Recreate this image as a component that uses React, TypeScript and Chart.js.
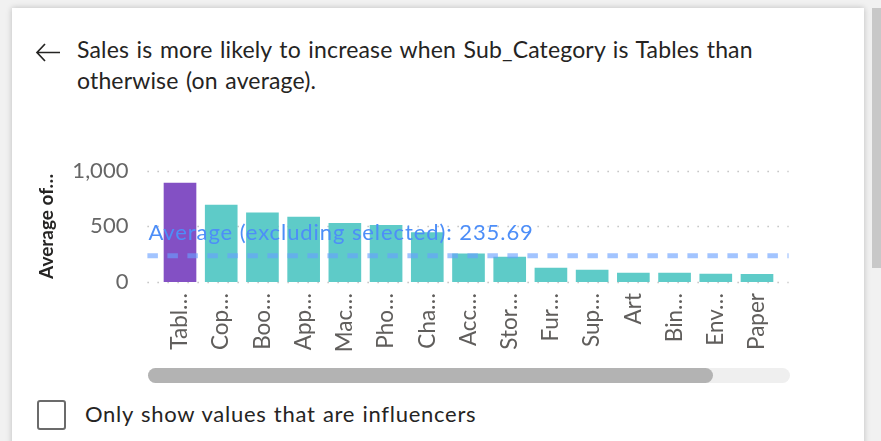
import React, { useEffect, useRef } from "react";
import { Chart, registerables } from "chart.js";

Chart.register(...registerables);

const categories = [
  "Tabl…", "Cop…", "Boo…", "App…", "Mac…", "Pho…", "Cha…", "Acc…",
  "Stor…", "Fur…", "Sup…", "Art", "Bin…", "Env…", "Paper",
];
const averageSales = [889, 691, 621, 583, 528, 510, 444, 252, 225, 126, 108, 81, 80, 72, 70];
const selectedIndex = 0;
const yTicks = [0, 500, 1000];
const averageExcludingSelected = 235.69;
const averageLabel = "Average (excluding selected): 235.69";
const titleLine1 = "Sales is more likely to increase when Sub_Category is Tables than";
const titleLine2 = "otherwise (on average).";
const yAxisTitle = "Average of…";
const checkboxLabel = "Only show values that are influencers";

const FONT = "Lato, 'Open Sans', sans-serif";

const overlayPlugin = {
  id: "overlay",
  beforeDatasetsDraw(chart: any) {
    const { ctx, chartArea, scales } = chart;
    const y = scales.y;
    ctx.save();
    ctx.strokeStyle = "#c2c2c2";
    ctx.lineWidth = 1.5;
    ctx.setLineDash([1.5, 8.5]);
    for (const v of yTicks) {
      const py = Math.round(y.getPixelForValue(v)) + 0.5;
      ctx.beginPath();
      ctx.moveTo(chartArea.left - 12, py);
      ctx.lineTo(chartArea.right + 11, py);
      ctx.stroke();
    }
    ctx.restore();
  },
  afterDatasetsDraw(chart: any) {
    const { ctx, chartArea, scales } = chart;
    const y = scales.y;
    const py = y.getPixelForValue(averageExcludingSelected);
    ctx.save();
    ctx.strokeStyle = "rgba(105,160,255,0.62)";
    ctx.lineWidth = 5;
    ctx.setLineDash([10.5, 9.5]);
    ctx.beginPath();
    ctx.moveTo(chartArea.left - 12, py);
    ctx.lineTo(chartArea.right + 11, py);
    ctx.stroke();
    ctx.setLineDash([]);
    ctx.fillStyle = "#4d8ef8";
    ctx.font = `22px ${FONT}`;
    (ctx as any).letterSpacing = "0.92px";
    ctx.textAlign = "left";
    ctx.textBaseline = "alphabetic";
    ctx.fillText(averageLabel, chartArea.left - 11, py - 16);
    ctx.restore();
  },
};

export default function App() {
  const canvasRef = useRef<HTMLCanvasElement | null>(null);

  useEffect(() => {
    const canvas = canvasRef.current;
    if (!canvas) return;
    const PADL = 20;
    const chart = new Chart(canvas, {
      type: "bar",
      data: {
        labels: categories,
        datasets: [
          {
            data: averageSales,
            backgroundColor: averageSales.map((_, i) => (i === selectedIndex ? "#8350c4" : "#5ecbc8")),
            barThickness: 32,
            borderWidth: 0,
          },
        ],
      },
      options: {
        animation: false,
        responsive: true,
        maintainAspectRatio: false,
        layout: { padding: { left: PADL, right: 103.4, top: 170.7, bottom: 59 } },
        plugins: { legend: { display: false }, tooltip: { enabled: false } },
        scales: {
          x: {
            grid: { display: false, drawTicks: false },
            border: { display: false },
            ticks: {
              autoSkip: false,
              maxRotation: 90,
              minRotation: 90,
              padding: 11,
              color: "#605e5c",
              font: { family: FONT, size: 22.5 },
            },
            afterFit: (s: any) => {
              s.height = 100;
            },
          },
          y: {
            min: 0,
            max: 1000,
            grid: { display: false, drawTicks: false },
            border: { display: false },
            ticks: {
              stepSize: 500,
              padding: 31,
              color: "#666666",
              font: { family: FONT, size: 22 },
              callback: (v: any) => Number(v).toLocaleString("en-US"),
            },
            title: {
              display: true,
              text: yAxisTitle,
              color: "#252423",
              font: { family: FONT, size: 19, weight: "bold" },
              padding: { top: 15, bottom: 0 },
            },
            afterFit: (s: any) => {
              s.width = 159.4 - PADL;
            },
          },
        },
      },
      plugins: [overlayPlugin],
    });
    return () => chart.destroy();
  }, []);

  return (
    <div
      style={{
        position: "fixed",
        left: 0,
        top: 0,
        width: 881,
        height: 441,
        background: "#f1f1f1",
        overflow: "hidden",
        fontFamily: FONT,
      }}
    >
      {/* card */}
      <div
        style={{
          position: "absolute",
          left: 12,
          top: 8,
          width: 852,
          height: 460,
          background: "#ffffff",
          boxShadow: "0 0 6px rgba(0,0,0,0.22)",
        }}
      />
      {/* right page scrollbar */}
      <div style={{ position: "absolute", left: 872, top: 8, width: 9, height: 260, background: "#c8c8c8" }} />
      {/* back arrow */}
      <svg style={{ position: "absolute", left: 0, top: 0 }} width={80} height={80}>
        <path d="M60 52.5 H37.5 M45 44 L37 52.5 L45 61" fill="none" stroke="#252423" strokeWidth={1.7} />
      </svg>
      {/* title */}
      <div
        style={{
          position: "absolute",
          left: 77,
          top: 34,
          fontSize: 23,
          lineHeight: "31px",
          color: "#252423",
          whiteSpace: "nowrap",
          wordSpacing: 1.5,
          letterSpacing: 0.15,
        }}
      >
        <div>{titleLine1}</div>
        <div>{titleLine2}</div>
      </div>
      {/* horizontal scrollbar */}
      <div style={{ position: "absolute", left: 148, top: 368, width: 642, height: 15, borderRadius: 8, background: "#efefef" }} />
      <div style={{ position: "absolute", left: 148, top: 368, width: 565, height: 15, borderRadius: 8, background: "#b3b3b3" }} />
      {/* checkbox */}
      <div
        style={{
          position: "absolute",
          left: 37,
          top: 400,
          width: 25,
          height: 26,
          border: "2.5px solid #6b6b6b",
          borderRadius: 3,
          background: "#fff",
        }}
      />
      <div
        style={{
          position: "absolute",
          left: 85,
          top: 399,
          fontSize: 22,
          lineHeight: "30px",
          color: "#252423",
          whiteSpace: "nowrap",
          wordSpacing: 1,
          letterSpacing: 0.72,
        }}
      >
        {checkboxLabel}
      </div>
      <div style={{ position: "absolute", left: 0, top: 0, width: 881, height: 441, pointerEvents: "none" }}>
        <canvas ref={canvasRef} />
      </div>
    </div>
  );
}
